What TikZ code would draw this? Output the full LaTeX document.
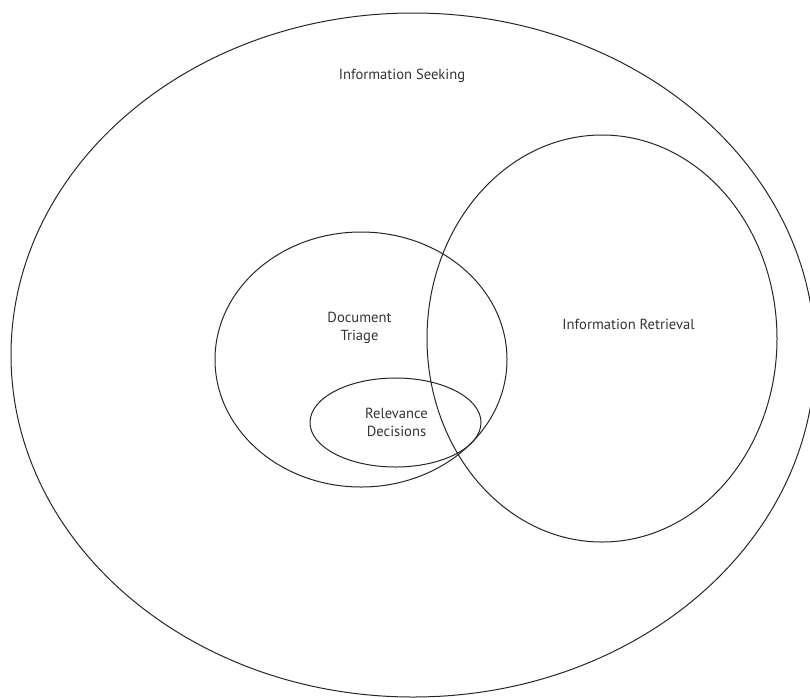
\documentclass[tikz,border=0pt]{standalone}
\usepackage{fontspec}
\setmainfont{PT Sans}
\begin{document}
\begin{tikzpicture}[x=1pt,y=-1pt,
  ring/.style={draw=black!85,line width=1pt},
  lbl/.style={text=black!80,font=\fontsize{14.6}{18.5}\selectfont,align=center,inner sep=0pt}]
\useasboundingbox (0,0) rectangle (810,697);
\clip (0,0) rectangle (810,697);
\draw[ring] (413,355) ellipse [x radius=402, y radius=342];
\draw[ring] (361,359.5) ellipse [x radius=146, y radius=127.5];
\draw[ring] (602,338.5) ellipse [x radius=175, y radius=203.5];
\draw[ring] (395.5,422.5) ellipse [x radius=85.5, y radius=44.5];
\node[lbl] (seek) at (402,76) {Information Seeking};
\node[lbl] (triage) at (359.5,328) {Document\\Triage};
\node[lbl] (rel) at (396.5,422.5) {Relevance\\Decisions};
\node[lbl] (ir) at (628.5,324) {Information Retrieval};
\end{tikzpicture}
\end{document}
